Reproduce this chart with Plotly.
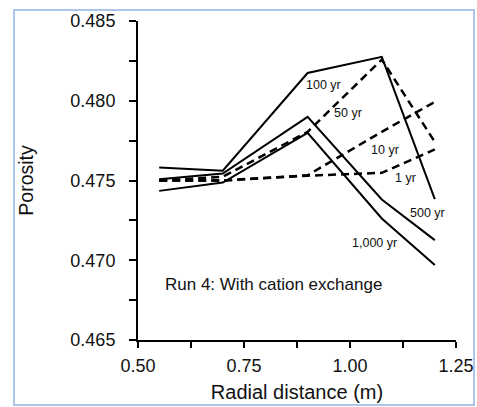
import plotly.graph_objects as go

# ---- data ----
radial_distance = [0.55, 0.70, 0.90, 1.075, 1.20]

series_names = ["1 yr", "10 yr", "50 yr", "100 yr", "500 yr", "1,000 yr"]
por_1yr = [0.4750, 0.4750, 0.47530, 0.47548, 0.47695]
por_10yr = [0.4750, 0.4750, 0.47533, 0.47805, 0.47993]
por_50yr = [0.4750, 0.47523, 0.47805, 0.48258, 0.47742]
por_100yr = [0.47581, 0.47561, 0.48174, 0.48275, 0.47383]
por_500yr = [0.47508, 0.47544, 0.47899, 0.47381, 0.47126]
por_1000yr = [0.47435, 0.47487, 0.47799, 0.47262, 0.46970]
series_values = [por_1yr, por_10yr, por_50yr, por_100yr, por_500yr, por_1000yr]
series_dashed = [True, True, True, False, False, False]

# label positions (data coords) for in-plot series labels
label_x = [1.131, 1.083, 0.996, 0.937, 1.182, 1.058]
label_y = [0.47514, 0.4769, 0.47922, 0.48097, 0.47295, 0.47108]

x_tickvals = [0.5, 0.625, 0.75, 0.875, 1.0, 1.125, 1.25]
x_ticktext = ["0.50", "", "0.75", "", "1.00", "", "1.25"]
y_tickvals = [0.465, 0.4675, 0.47, 0.4725, 0.475, 0.4775, 0.48, 0.4825, 0.485]
y_ticktext = ["0.465", "", "0.470", "", "0.475", "", "0.480", "", "0.485"]

run_text = "Run 4: With cation exchange"

# ---- figure ----
W, H = 477, 407
L, R, T, B = 138, 21, 21, 67
pw, ph = W - L - R, H - T - B

fig = go.Figure()
for name, vals, dashed in zip(series_names, series_values, series_dashed):
    fig.add_trace(go.Scatter(
        x=radial_distance, y=vals, mode="lines", name=name,
        line=dict(color="black", width=2.5 if dashed else 2,
                  dash="8px,5px" if dashed else "solid"),
        showlegend=False,
    ))

font_family = "Liberation Sans, Arial, sans-serif"
for name, lx, ly in zip(series_names, label_x, label_y):
    fig.add_annotation(x=lx, y=ly, text=name, showarrow=False,
                       font=dict(family=font_family, size=12.5, color="#111"))
fig.add_annotation(x=0.819, y=0.46845, text=run_text, showarrow=False,
                   font=dict(family=font_family, size=17, color="#111"))

# light blue frame around chart
def px_to_paper_x(px):
    return (px - L) / pw

def px_to_paper_y(py):
    return (H - B - py) / ph

fig.add_shape(type="rect", xref="paper", yref="paper",
              x0=px_to_paper_x(14), x1=px_to_paper_x(474),
              y0=px_to_paper_y(405), y1=px_to_paper_y(10),
              line=dict(color="#AFC4EA", width=2), fillcolor="rgba(0,0,0,0)",
              layer="below")

fig.update_layout(
    width=W, height=H,
    margin=dict(l=L, r=R, t=T, b=B, autoexpand=False),
    paper_bgcolor="white", plot_bgcolor="white",
    font=dict(family=font_family, color="#111"),
    xaxis=dict(
        range=[0.5, 1.25], tickmode="array", tickvals=x_tickvals, ticktext=x_ticktext,
        showgrid=False, zeroline=False, showline=True, linecolor="black", linewidth=2,
        ticks="outside", ticklen=6, tickwidth=2, tickcolor="black", automargin=False,
        tickfont=dict(size=18, color="#111"), ticklabelstandoff=2,
        title=dict(text="Radial distance (m)", font=dict(size=20, color="#111"), standoff=10),
    ),
    yaxis=dict(
        range=[0.465, 0.485], tickmode="array", tickvals=y_tickvals, ticktext=y_ticktext,
        showgrid=False, zeroline=False, showline=True, linecolor="black", linewidth=2,
        ticks="outside", ticklen=7, tickwidth=2, tickcolor="black", automargin=False,
        tickfont=dict(size=18, color="#111"), ticklabelstandoff=10,
        title=dict(text="Porosity", font=dict(size=19.5, color="#111"), standoff=32),
    ),
)

fig.write_html("out.html")
